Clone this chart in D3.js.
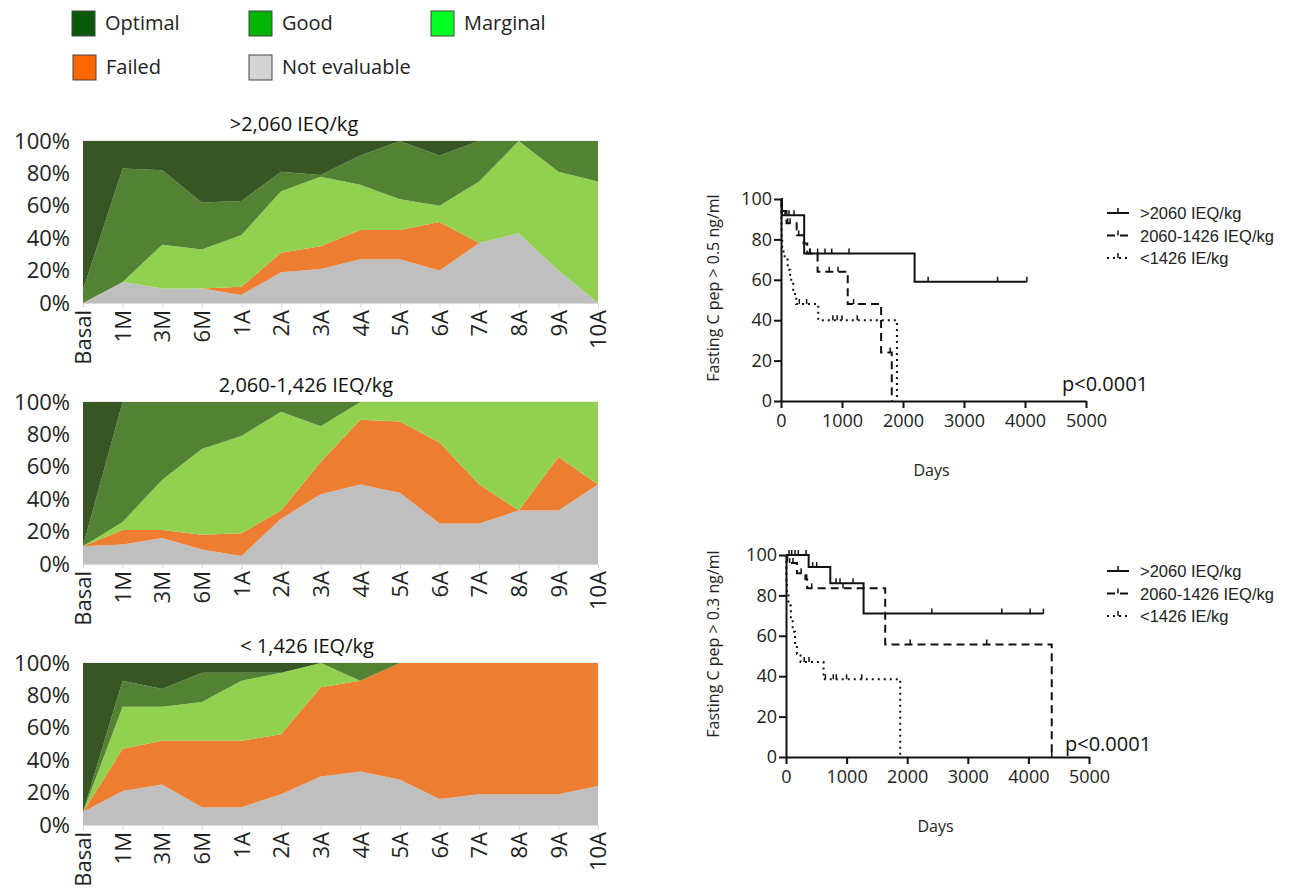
<!DOCTYPE html>
<html>
<head>
<meta charset="utf-8">
<script src="https://cdn.jsdelivr.net/npm/d3@7"></script>
<style>
  body { margin: 0; background: #fff; }
  text { font-family: "Open Sans", sans-serif; }
  .kmleg text { font-family: "Liberation Sans", Arial, sans-serif; }
</style>
</head>
<body>
<script>
// ---- data: outcome distribution per follow-up time (%)
var periods = ["Basal","1M","3M","6M","1A","2A","3A","4A","5A","6A","7A","8A","9A","10A"];
var outcomeNames = ["Optimal","Good","Marginal","Failed","Not evaluable"];

// >2,060 IEQ/kg
var notEval1  = [0,13,9,9,5,19,21,27,27,20,37,43,20,0];
var failed1   = [0,0,0,0,5,12,14,18,18,30,0,0,0,0];
var marginal1 = [0,0,27,24,32,38,43,28,19,10,38,57,61,75];
var good1     = [8,70,46,29,21,12,1,18,36,31,25,0,19,25];
var optimal1  = [92,17,18,38,37,19,21,9,0,9,0,0,0,0];

// 2,060-1,426 IEQ/kg
var notEval2  = [11,12,16,9,5,28,43,49,44,25,25,33,33,49];
var failed2   = [0,9,5,9,14,5,20,40,44,50,24,0,33,0];
var marginal2 = [0,5,31,53,60,61,22,11,12,25,51,67,34,51];
var good2     = [0,74,48,29,21,6,15,0,0,0,0,0,0,0];
var optimal2  = [89,0,0,0,0,0,0,0,0,0,0,0,0,0];

// < 1,426 IEQ/kg
var notEval3  = [8,21,25,11,11,19,30,33,28,16,19,19,19,24];
var failed3   = [0,26,27,41,41,37,55,56,72,84,81,81,81,76];
var marginal3 = [0,26,21,24,37,38,15,0,0,0,0,0,0,0];
var good3     = [0,16,11,18,5,0,0,11,0,0,0,0,0,0];
var optimal3  = [92,11,16,6,6,6,0,0,0,0,0,0,0,0];

var pctTicks = [0,20,40,60,80,100];

// ---- data: Kaplan-Meier curves (days, % still above threshold)
var kmTicksX = [0,1000,2000,3000,4000,5000];
var kmTicksY = [0,20,40,60,80,100];
var kmGroups = [">2060 IEQ/kg","2060-1426 IEQ/kg","<1426 IE/kg"];

// C pep > 0.5
var a_hi_t  = [0,15,380,2190,4030];
var a_hi_s  = [100,92,73,59,59];
var a_hi_c  = [66,131,213,476,600,722,832,1115,2412,3550,4030];
var a_mid_t = [0,10,90,257,370,430,600,1094,1641,1816];
var a_mid_s = [100,94,88,82,78,73,64,48,24,0];
var a_mid_c = [110,150,290,470,790,935,1190,1790];
var a_lo_t  = [0,5,10,20,60,110,150,200,250,610,1900];
var a_lo_s  = [100,90,80,74,70,65,60,53,48,40,0];
var a_lo_c  = [300,420,850,920,1000,1250];

// C pep > 0.3
var b_hi_t  = [0,374,731,1280,4248];
var b_hi_s  = [100,94,86,71,71];
var b_hi_c  = [50,94,149,203,330,440,506,825,891,1106,2407,3561,4028,4248];
var b_mid_t = [0,20,180,320,350,1637,4385];
var b_mid_s = [100,96,91,88,83.5,55.7,0];
var b_mid_c = [60,115,250,341,424,940,2050,3313,4385];
var b_lo_t  = [0,5,15,40,80,110,150,180,240,620,1885];
var b_lo_s  = [100,86,80,75,68,62,55,51,47,38.5,0];
var b_lo_c  = [300,380,650,780,830,1000,1250];

// ---- layout
var areaColors = {"Optimal":"#375623","Good":"#548235","Marginal":"#92d050","Failed":"#ed7d31","Not evaluable":"#bfbfbf"};
var legendColors = {"Optimal":"#0b5a0b","Good":"#00b400","Marginal":"#00ff22","Failed":"#ff6600","Not evaluable":"#d4d4d4"};

var svg = d3.select("body").append("svg")
    .attr("width",1292).attr("height",893);

// legend at top left
var legendPos = [[72,11],[249,11],[431,11],[73,55],[249,55]];
outcomeNames.forEach(function(name,i){
    var g = svg.append("g").attr("transform","translate("+legendPos[i][0]+","+legendPos[i][1]+")");
    g.append("rect").attr("width",23).attr("height",25)
        .attr("fill",legendColors[name]).attr("stroke","#444").attr("stroke-width",1);
    g.append("text").attr("x",33).attr("y",19).attr("font-size",20).attr("fill","#222").text(name);
});

// stacked area chart
function drawArea(top, title, titleX, series){
    var h = 162;
    var x = d3.scalePoint().domain(periods).range([83,598]);
    var y = d3.scaleLinear().domain([0,100]).range([top+h, top]);
    var keys = ["Not evaluable","Failed","Marginal","Good","Optimal"];
    var table = periods.map(function(p,i){
        var row = {period:p};
        keys.forEach(function(k,j){ row[k] = series[j][i]; });
        return row;
    });
    var layers = d3.stack().keys(keys)(table);
    var area = d3.area()
        .x(function(d){ return x(d.data.period); })
        .y0(function(d){ return y(d[0]); })
        .y1(function(d){ return y(d[1]); });

    var g = svg.append("g");
    g.append("line").attr("x1",83).attr("x2",598).attr("y1",y(100)).attr("y2",y(100))
        .attr("stroke","#d9d9d9");
    g.selectAll("path.layer").data(layers).enter().append("path")
        .attr("class","layer")
        .attr("d",area)
        .attr("fill",function(d){ return areaColors[d.key]; });

    // bottom axis
    var xa = d3.axisBottom(x).tickSize(5).tickSizeOuter(0);
    var ax = g.append("g").attr("transform","translate(0,"+(top+h)+")").call(xa);
    ax.select(".domain").attr("stroke","#d9d9d9");
    ax.selectAll(".tick line").attr("stroke","#d9d9d9");
    ax.selectAll(".tick text")
        .attr("font-size",22).attr("fill","#222")
        .attr("font-family","Open Sans, sans-serif")
        .attr("transform","rotate(-90)")
        .attr("text-anchor","end")
        .attr("x",-7).attr("y",0).attr("dy","0.35em");

    // left labels
    var ya = d3.axisLeft(y).tickValues(pctTicks).tickSize(0)
        .tickFormat(function(d){ return d+"%"; });
    var ay = g.append("g").attr("transform","translate(72,0)").call(ya);
    ay.select(".domain").remove();
    ay.selectAll(".tick text").attr("font-size",22).attr("fill","#222")
        .attr("font-family","Open Sans, sans-serif").attr("x",-2);

    g.append("text").attr("x",titleX).attr("y",top-10).attr("text-anchor","middle")
        .attr("font-size",20).attr("fill","#111").text(title);
}

drawArea(141, ">2,060 IEQ/kg", 294, [notEval1,failed1,marginal1,good1,optimal1]);
drawArea(402, "2,060-1,426 IEQ/kg", 306, [notEval2,failed2,marginal2,good2,optimal2]);
drawArea(663, "< 1,426 IEQ/kg", 307, [notEval3,failed3,marginal3,good3,optimal3]);

// Kaplan-Meier plot
var dashes = [null,"8,5","2,4"];
function drawKM(x0, x1, yTop, yBot, yLabel, pY, curves, legY){
    var x = d3.scaleLinear().domain([0,5000]).range([x0,x1]);
    var y = d3.scaleLinear().domain([0,100]).range([yBot,yTop]);
    var g = svg.append("g").attr("class","km");
    var line = d3.line().curve(d3.curveStepAfter)
        .x(function(d){ return x(d[0]); }).y(function(d){ return y(d[1]); });

    curves.forEach(function(c,i){
        var pts = c.t.map(function(t,j){ return [t,c.s[j]]; });
        var level = function(d){
            return d3.min(pts.filter(function(p){ return p[0]<=d; }),function(p){ return p[1]; });
        };
        g.append("path").attr("d",line(pts)).attr("fill","none")
            .attr("stroke","#111").attr("stroke-width",2)
            .attr("stroke-dasharray",dashes[i]);
        // censor marks
        g.selectAll(null).data(c.c).enter().append("line")
            .attr("x1",function(d){ return x(d); }).attr("x2",function(d){ return x(d); })
            .attr("y1",function(d){ return y(level(d)); })
            .attr("y2",function(d){ return y(level(d))-5; })
            .attr("stroke","#111").attr("stroke-width",1.5);
    });

    var xa = d3.axisBottom(x).tickValues(kmTicksX).tickSize(7).tickSizeOuter(0).tickFormat(d3.format("d"));
    var ax = g.append("g").attr("transform","translate(0,"+yBot+")").call(xa);
    ax.select(".domain").attr("stroke","#111").attr("stroke-width",2);
    ax.selectAll(".tick line").attr("stroke","#111").attr("stroke-width",2);
    ax.selectAll(".tick text").attr("font-size",18).attr("fill","#222")
        .attr("font-family","Open Sans, sans-serif").attr("y",13);

    var ya = d3.axisLeft(y).tickValues(kmTicksY).tickSize(7).tickSizeOuter(0);
    var ay = g.append("g").attr("transform","translate("+x0+",0)").call(ya);
    ay.select(".domain").attr("stroke","#111").attr("stroke-width",2);
    ay.selectAll(".tick text").attr("font-size",18).attr("fill","#222")
        .attr("font-family","Open Sans, sans-serif").attr("x",-9);
    ay.selectAll(".tick line").attr("stroke","#111").attr("stroke-width",2);

    g.append("text").attr("x",(x0+x1)/2-2).attr("y",yBot+75).attr("text-anchor","middle")
        .attr("font-size",16).attr("fill","#222").text("Days");
    g.append("text").attr("transform","translate(719,"+((yTop+yBot)/2-12)+") rotate(-90)")
        .attr("text-anchor","middle").attr("font-size",16).attr("fill","#222").text(yLabel);
    g.append("text").attr("x",x1-24).attr("y",pY).attr("text-anchor","start")
        .attr("font-size",20).attr("fill","#111").text("p<0.0001");

    // legend
    var lg = svg.append("g").attr("class","kmleg");
    kmGroups.forEach(function(name,i){
        var ly = legY + i*22.5;
        lg.append("line").attr("x1",1107).attr("x2",1129).attr("y1",ly).attr("y2",ly)
            .attr("stroke","#111").attr("stroke-width",2).attr("stroke-dasharray",dashes[i]);
        lg.append("line").attr("x1",1118).attr("x2",1118).attr("y1",ly).attr("y2",ly-5)
            .attr("stroke","#111").attr("stroke-width",1.5);
        lg.append("text").attr("x",1140).attr("y",ly+6).attr("font-size",16.5)
            .attr("fill","#222").text(name);
    });
}

drawKM(781, 1086, 199, 401, "Fasting C pep > 0.5  ng/ml", 391, [
    {t:a_hi_t, s:a_hi_s, c:a_hi_c},
    {t:a_mid_t, s:a_mid_s, c:a_mid_c},
    {t:a_lo_t, s:a_lo_s, c:a_lo_c}
], 213);

drawKM(786, 1089, 555, 757, "Fasting C pep > 0.3  ng/ml", 751, [
    {t:b_hi_t, s:b_hi_s, c:b_hi_c},
    {t:b_mid_t, s:b_mid_s, c:b_mid_c},
    {t:b_lo_t, s:b_lo_s, c:b_lo_c}
], 571);
</script>
</body>
</html>
